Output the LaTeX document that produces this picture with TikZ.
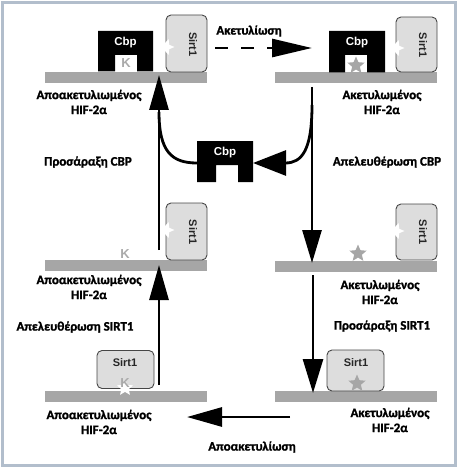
\documentclass[tikz,border=0pt]{standalone}
\usepackage{fontspec}
\setmainfont{Carlito}[BoldFont={Carlito Bold},BoldFeatures={FakeBold=1.3}]
\newfontfamily\arialf{Liberation Sans}[BoldFont={Liberation Sans Bold}]
\usetikzlibrary{arrows.meta,shapes.geometric}
\definecolor{bargray}{RGB}{166,166,166}
\definecolor{sirtfill}{RGB}{221,221,221}
\definecolor{sirtline}{RGB}{70,70,70}
\definecolor{kgray}{RGB}{170,170,170}
\definecolor{framecol}{RGB}{178,190,204}
\begin{document}
\begin{tikzpicture}[x=1pt,y=-1pt,
  bar/.style={fill=bargray,draw=none,minimum width=162pt,minimum height=11pt,inner sep=0pt},
  sirtbox/.style={fill=sirtfill,draw=sirtline,line width=0.9pt,rounded corners=5pt,inner sep=0pt},
  sirttxt/.style={font=\arialf\bfseries\fontsize{11}{13}\selectfont,text=black!85,inner sep=0pt},
  cbptxt/.style={font=\arialf\bfseries\fontsize{11.5}{13}\selectfont,text=white,inner sep=0pt},
  ktxt/.style={font=\arialf\bfseries\fontsize{13}{14}\selectfont,text=kgray,inner sep=0pt},
  lbl/.style={font=\bfseries\fontsize{13}{15}\selectfont,align=center,inner sep=0pt},
  notch/.style={star,star points=5,star point ratio=2.2,minimum size=17pt,inner sep=0pt,fill=white,draw=none},
  gstar/.style={star,star points=5,star point ratio=2.2,minimum size=18pt,inner sep=0pt,fill=bargray,draw=none},
  flowline/.style={line width=2.8pt},
  flow/.style={flowline,-{Triangle[length=35pt,width=19pt]}}
]
\useasboundingbox (0,0) rectangle (459,468);
\draw[framecol,line width=2.5pt] (2.5,2.5) rectangle (455.5,465.5);

% ---------- bars ----------
\node[bar] (barTL) at (126,77.5) {};
\node[bar] (barTR) at (356,78) {};
\node[bar] (barML) at (126,265) {};
\node[bar] (barMR) at (356,266.5) {};
\node[bar] (barBL) at (126,396.5) {};
\node[bar] (barBR) at (356,396.5) {};

% ---------- Cbp shapes ----------
\fill[black] (98,31) -- (153,31) -- (153,71.5) -- (137,71.5) -- (137,55) -- (115,55) -- (115,71.5) -- (98,71.5) -- cycle;
\node[cbptxt] (cbpTL) at (125.5,43) {Cbp};
\node[ktxt] (kTL) at (126,63.5) {K};

\fill[black] (329,31) -- (385,31) -- (385,72.5) -- (367,72.5) -- (367,55) -- (345,55) -- (345,72.5) -- (329,72.5) -- cycle;
\node[cbptxt] (cbpTR) at (357,43) {Cbp};
\node[gstar] (stTR) at (356,65.5) {};

\fill[black] (197,141) -- (253,141) -- (253,182) -- (238,182) -- (238,165) -- (216,165) -- (216,182) -- (197,182) -- cycle;
\node[cbptxt] (cbpM) at (225,153) {Cbp};
\coordinate (cbpMw) at (197,163);
\coordinate (cbpMe) at (253,163);

% ---------- Sirt1 boxes ----------
\node[sirtbox,minimum width=41pt,minimum height=57pt] (sTL) at (186.5,43.5) {};
\node[notch,rotate=-90] (nTL) at (166,47) {};
\node[sirttxt,rotate=-90] (tTL) at (193,44.5) {Sirt1};

\node[sirtbox,minimum width=41pt,minimum height=55pt] (sTR) at (416.5,44.5) {};
\node[notch,rotate=-90] (nTR) at (396,48) {};
\node[sirttxt,rotate=-90] (tTR) at (423,45) {Sirt1};

\node[sirtbox,minimum width=41pt,minimum height=57pt] (sML) at (186.5,231.5) {};
\node[notch,rotate=-90] (nML) at (166,230) {};
\node[sirttxt,rotate=-90] (tML) at (193,232) {Sirt1};
\node[ktxt] (kML) at (125,254) {K};

\node[sirtbox,minimum width=41pt,minimum height=56pt] (sMR) at (416.5,232) {};
\node[notch,rotate=-90] (nMR) at (396,231) {};
\node[sirttxt,rotate=-90] (tMR) at (423,232) {Sirt1};
\node[gstar] (stMR) at (358,253.5) {};

\node[sirtbox,minimum width=57pt,minimum height=38pt] (sBL) at (125.5,369.5) {};
\node[notch] (nBL) at (125,388) {};
\node[sirttxt] (tBL) at (125,363) {Sirt1};
\node[ktxt] (kBL) at (125,383) {K};

\node[sirtbox,minimum width=57pt,minimum height=41pt] (sBR) at (355.5,370.5) {};
\node[sirttxt] (tBR) at (356,363) {Sirt1};
\node[gstar] (stBR) at (357,383.5) {};

% ---------- labels ----------
\node[lbl] (lTL) at (89,102) {Αποακετυλιωμένος\\HIF-2α};
\node[lbl] (lTR) at (382,102) {Ακετυλωμένος\\HIF-2α};
\node[lbl] (lML) at (89,287) {Αποακετυλιωμένος\\HIF-2α};
\node[lbl] (lMR) at (380,292) {Ακετυλωμένος\\HIF-2α};
\node[lbl] (lBL) at (99,422) {Αποακετυλιωμένος\\HIF-2α};
\node[lbl] (lBR) at (390,420) {Ακετυλωμένος\\HIF-2α};
\node[lbl] (acet) at (249,31) {Ακετυλίωση};
\node[lbl] (bindCBP) at (88,162) {Προσάραξη CBP};
\node[lbl] (relCBP) at (387,162) {Απελευθέρωση CBP};
\node[lbl] (relS) at (75,327) {Απελευθέρωση SIRT1};
\node[lbl] (bindS) at (382,326) {Προσάραξη SIRT1};
\node[lbl] (deacet) at (252,447) {Αποακετυλίωση};

% ---------- connectors ----------
\coordinate (dS) at (215,48);
\coordinate (dE) at (312,48);
\draw[flowline,dash pattern=on 13pt off 13pt,-{Triangle[length=40pt,width=18pt]}] (dS) -- (dE);

\coordinate (aLs) at (159,250);
\coordinate (aLe) at (159,75);
\draw[flow] (aLs) -- (aLe);
\coordinate (jL) at (159,112);
\draw[flowline] (jL) .. controls (159,152) and (172,163) .. (cbpMw);

\coordinate (aRs) at (312,87);
\coordinate (aRe) at (312,263);
\draw[flowline,-{Triangle[length=33pt,width=19pt]}] (aRs) -- (aRe);
\coordinate (jR) at (312,105);
\draw[flowline,-{Triangle[length=33pt,width=25pt]}] (jR) .. controls (312,150) and (302,163) .. (cbpMe);

\coordinate (bLs) at (159,385);
\coordinate (bLe) at (159,265);
\draw[flow] (bLs) -- (bLe);

\coordinate (bRs) at (313,275);
\coordinate (bRe) at (313,393);
\draw[flowline,-{Triangle[length=34pt,width=20pt]}] (bRs) -- (bRe);

\coordinate (hS) at (290,417);
\coordinate (hE) at (187,417);
\draw[flow] (hS) -- (hE);
\end{tikzpicture}
\end{document}
